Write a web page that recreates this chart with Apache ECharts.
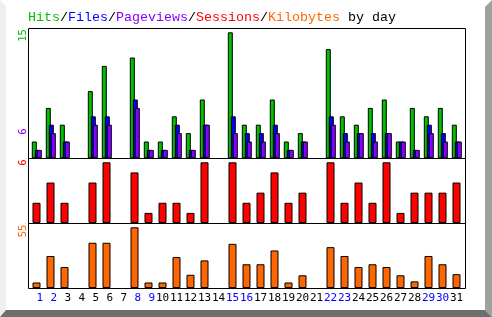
<!DOCTYPE html>
<html><head><meta charset="utf-8">
<script src="https://cdn.jsdelivr.net/npm/echarts@6/dist/echarts.min.js"></script>
<style>html,body{margin:0;padding:0;background:#fff}#c{width:492px;height:317px}</style>
</head><body><div id="c"></div><script>
const days = ['1','2','3','4','5','6','7','8','9','10','11','12','13','14','15','16','17','18','19','20','21','22','23','24','25','26','27','28','29','30','31'];
const weekendDays = ['1','2','8','9','15','16','22','23','29','30'];
const hits     = [2,6,4,0,8,11,0,12,2,2,5,3,7,0,15,4,4,7,2,3,0,13,5,4,6,7,2,6,5,6,4];
const files    = [1,4,2,0,5,5,0,7,1,1,4,1,4,0,5,3,3,4,1,2,0,5,3,3,3,3,2,1,4,3,2];
const pages    = [1,3,2,0,4,4,0,6,1,1,3,1,4,0,3,2,2,3,1,2,0,4,2,3,2,3,2,1,3,2,2];
const sessions = [2,4,2,0,4,6,0,5,1,2,2,1,6,0,6,2,3,5,2,3,0,6,2,4,2,6,1,3,3,3,4];
const kbytes   = [5,29,19,0,41,41,0,55,5,5,28,12,25,0,40,21.5,21.5,34,5,11.5,0,37,29,19,21.5,19,11.5,6,29,21.5,12.5];
const titleParts = [['Hits','g'],['/','k'],['Files','b'],['/','k'],['Pageviews','p'],['/','k'],['Sessions','r'],['/','k'],['Kilobytes','o'],[' by day','k']];

const C = {g:'#00c000', b:'#0000ff', p:'#8800ff', r:'#ff0000', o:'#ff6600', k:'#000000'};
const mono = '"DejaVu Sans Mono", "Liberation Mono", monospace';
const hitsMax = Math.max(...hits), pagesMax = Math.max(...pages),
      sessMax = Math.max(...sessions), kbMax = Math.max(...kbytes);

const chart = echarts.init(document.getElementById('c'), null, {renderer:'canvas'});

const gridDefs = [
  {left:27.3, top:32.3, width:434, height:126},
  {left:30.3, top:32.3, width:434, height:126},
  {left:32.3, top:32.3, width:434, height:126},
  {left:29.5, top:162.3, width:434, height:60.7},
  {left:29.5, top:227.3, width:434, height:60.7}
];
const maxes = [hitsMax, hitsMax, hitsMax, sessMax, kbMax];
const xAxes = gridDefs.map((g,i)=>({
  type:'category', data:days, gridIndex:i, show: i===4,
  axisLine:{show:false}, axisTick:{show:false}, splitLine:{show:false},
  axisLabel:{
    show: i===4, interval:0, margin:5, fontFamily:mono, fontSize:11,
    formatter: v => v.length < 2 ? ' ' + v : v,
    color: (v) => weekendDays.includes(String(v)) ? '#0000ff' : '#000000'
  }
}));
const yAxes = gridDefs.map((g,i)=>({type:'value', gridIndex:i, min:0, max:maxes[i], show:false, splitLine:{show:false}}));

function bar(name, data, idx, color, w){
  return {name, type:'bar', data: data.map(v => v === 0 ? '-' : v), xAxisIndex:idx, yAxisIndex:idx, barWidth:w,
    itemStyle:{color, borderColor:'#000', borderWidth:1}, silent:true};
}

const rich = {};
Object.keys(C).forEach(k => rich[k] = {fill:C[k], fontFamily:'"Liberation Mono", monospace', fontSize:13.33});
const titleText = titleParts.map(p => '{' + p[1] + '|' + p[0] + '}').join('');

function vlabel(text, color, x, y){
  return {type:'text', x, y, rotation:Math.PI/2, z:10,
    style:{text:String(text), fill:color, font:'10.5px ' + mono, align:'center', verticalAlign:'middle'}};
}

chart.setOption({
  animation:false,
  backgroundColor:'#ffffff',
  grid: gridDefs.map(g => Object.assign({containLabel:false}, g)),
  xAxis: xAxes, yAxis: yAxes,
  series:[
    bar('Hits', hits, 0, C.g, 5),
    bar('Files', files, 1, C.b, 5),
    bar('Pageviews', pages, 2, C.p, 5),
    bar('Sessions', sessions, 3, C.r, 8),
    bar('Kilobytes', kbytes, 4, C.o, 8)
  ],
  graphic:[
    {type:'polygon', shape:{points:[[0,0],[6,6],[6,311],[0,317]]}, style:{fill:'#efefef'}, z:1},
    {type:'polygon', shape:{points:[[492,0],[492,317],[485,310],[485,7]]}, style:{fill:'#a0a0a0'}, z:1},
    {type:'polygon', shape:{points:[[0,317],[492,317],[485,310],[6,310]]}, style:{fill:'#6e6e6e'}, z:1},
    {type:'rect', shape:{x:28.5, y:28.5, width:437, height:130}, style:{fill:null, stroke:'#000', lineWidth:1}, z:5},
    {type:'rect', shape:{x:28.5, y:158.5, width:437, height:65}, style:{fill:null, stroke:'#000', lineWidth:1}, z:5},
    {type:'rect', shape:{x:28.5, y:223.5, width:437, height:65}, style:{fill:null, stroke:'#000', lineWidth:1}, z:5},
    {type:'text', x:28, y:17, z:10, style:{text:titleText, rich, verticalAlign:'middle', align:'left', font:'13.33px "Liberation Mono", monospace'}},
    vlabel(hitsMax, C.g, 23, 35.5),
    vlabel(pagesMax, C.p, 23, 131.7),
    vlabel(sessMax, C.r, 23, 162.5),
    vlabel(kbMax, C.o, 23, 231)
  ]
});
</script></body></html>
